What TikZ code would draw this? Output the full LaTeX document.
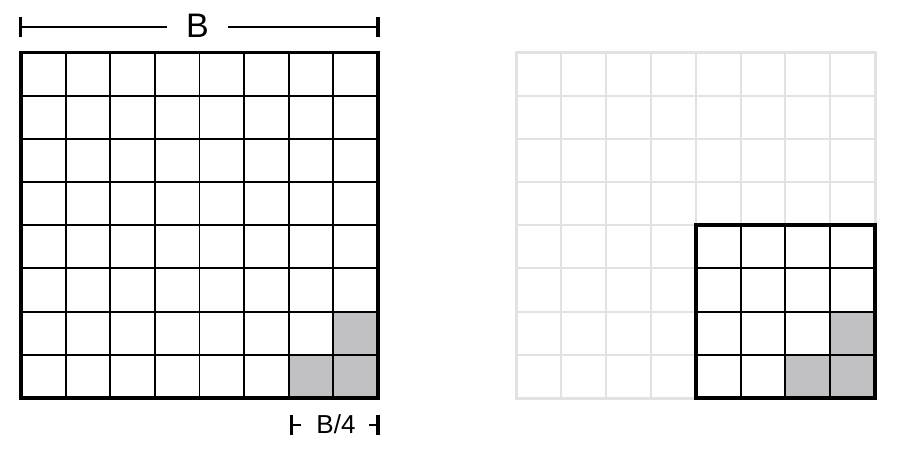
\documentclass[tikz,border=0pt]{standalone}
\usepackage{fontspec}
\setmainfont{Liberation Sans}
\definecolor{cellgray}{HTML}{C1C0C3}
\definecolor{faint}{HTML}{E2E2E2}
\begin{document}
\begin{tikzpicture}[x=1pt,y=-1pt,
  innerline/.style={line width=1.9pt,black},
  outerline/.style={line width=3.2pt,black},
  faintinner/.style={line width=1.9pt,faint},
  faintouter/.style={line width=3pt,faint},
  dimline/.style={line width=2.8pt,black},
  dimtick/.style={line width=3.4pt,black},
  lbl/.style={inner sep=0pt}]
\useasboundingbox (0,0) rectangle (900,449);
% ---------- left grid ----------
\def\lx{21}\def\rx{378}\def\ty{52.5}\def\by{398}
\pgfmathsetmacro{\cw}{(\rx-\lx)/8}
\pgfmathsetmacro{\ch}{(\by-\ty)/8}
\fill[cellgray] ({\lx+6*\cw},{\ty+7*\ch}) rectangle (\rx,\by);
\fill[cellgray] ({\lx+7*\cw},{\ty+6*\ch}) rectangle (\rx,{\ty+7*\ch});
\foreach \i in {1,...,7}{
  \draw[innerline] ({\lx+\i*\cw},\ty) -- ({\lx+\i*\cw},\by);
  \draw[innerline] (\lx,{\ty+\i*\ch}) -- (\rx,{\ty+\i*\ch});
}
\draw[outerline] (\lx,\ty) rectangle (\rx,\by);
% ---------- right grid ----------
\def\Lx{516.5}\def\Rx{875}
\pgfmathsetmacro{\Cw}{(\Rx-\Lx)/8}
\foreach \i in {1,...,7}{
  \draw[faintinner] ({\Lx+\i*\Cw},\ty) -- ({\Lx+\i*\Cw},\by);
  \draw[faintinner] (\Lx,{\ty+\i*\ch}) -- (\Rx,{\ty+\i*\ch});
}
\draw[faintouter] (\Lx,\ty) rectangle (\Rx,\by);
\fill[cellgray] ({\Lx+6*\Cw},{\ty+7*\ch}) rectangle (\Rx,\by);
\fill[cellgray] ({\Lx+7*\Cw},{\ty+6*\ch}) rectangle (\Rx,{\ty+7*\ch});
\foreach \i in {5,6,7}{
  \draw[innerline] ({\Lx+\i*\Cw},{\ty+4*\ch}) -- ({\Lx+\i*\Cw},\by);
  \draw[innerline] ({\Lx+4*\Cw},{\ty+\i*\ch}) -- (\Rx,{\ty+\i*\ch});
}
\draw[outerline,line width=3.6pt] ({\Lx+4*\Cw},{\ty+4*\ch}) rectangle (\Rx,\by);
% ---------- dimension B ----------
\node[lbl,font=\fontsize{34}{38}\selectfont] (B) at (197.5,25.5) {B};
\coordinate (bl) at (20.5,27);
\coordinate (br) at (378,27);
\coordinate (bgl) at (167,27);
\coordinate (bgr) at (228,27);
\draw[dimline] (bl) -- (bgl);
\draw[dimline] (bgr) -- (br);
\draw[dimtick] ([yshift=-10pt]bl) -- ([yshift=10pt]bl);
\draw[dimtick] ([yshift=-10pt]br) -- ([yshift=10pt]br);
% ---------- dimension B/4 ----------
\node[lbl,font=\fontsize{26}{30}\selectfont] (Bq) at (336,424) {B/4};
\coordinate (ql) at (291.5,425);
\coordinate (qr) at (378,425);
\draw[dimline] (ql) -- ([xshift=9pt]ql);
\draw[dimline] ([xshift=-9pt]qr) -- (qr);
\draw[dimtick] ([yshift=-10pt]ql) -- ([yshift=10pt]ql);
\draw[dimtick] ([yshift=-10pt]qr) -- ([yshift=10pt]qr);
\end{tikzpicture}
\end{document}
